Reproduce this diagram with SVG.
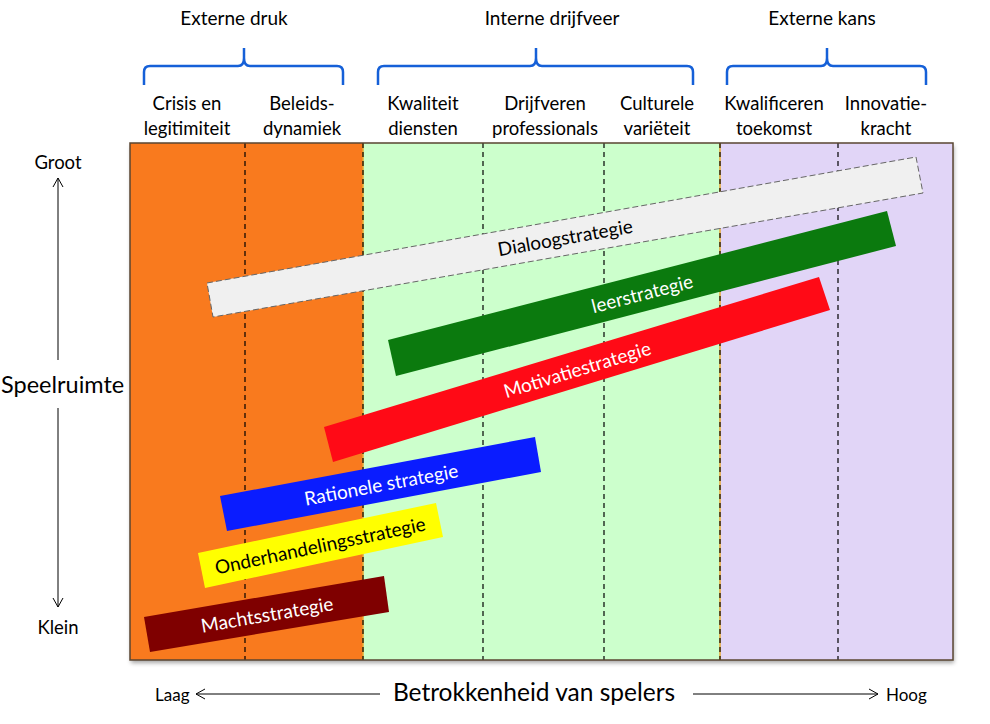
<svg xmlns="http://www.w3.org/2000/svg" width="990" height="724" viewBox="0 0 990 724">
<defs>
<style>
text{font-family:Lato,"Open Sans","Liberation Sans",sans-serif;fill:#000}
.hdr{font-size:19px;text-anchor:middle}
.col{font-size:18.5px;text-anchor:middle}
.brace{fill:none;stroke:#1560d8;stroke-width:2.5;stroke-linejoin:round}
.dash{stroke:#000;stroke-width:1.2;stroke-dasharray:5,4}
.bnd{stroke:#e8a830;stroke-width:1.5}
.ax{stroke:#000;stroke-width:1;fill:none}
.bar{font-size:19px;text-anchor:middle;dominant-baseline:central}
.w{fill:#fff}
</style>
<marker id="ah" viewBox="0 0 12 12" refX="11" refY="6" markerWidth="12" markerHeight="12" markerUnits="userSpaceOnUse" orient="auto">
<polyline points="2,1 11,6 2,11" fill="none" stroke="#000" stroke-width="1"/>
</marker>
<filter id="sh" x="-5%" y="-5%" width="110%" height="115%">
<feDropShadow dx="1" dy="3" stdDeviation="2" flood-color="#000" flood-opacity="0.35"/>
</filter>
</defs>
<rect width="990" height="724" fill="#fff"/>

<g id="frame">
<rect x="130" y="143" width="823" height="517" fill="#e1d5f7" filter="url(#sh)"/>
<rect x="130" y="143" width="233" height="517" fill="#f97a1e"/>
<rect x="363" y="143" width="357" height="517" fill="#ccffcc"/>
<rect x="720" y="143" width="233" height="517" fill="#e1d5f7"/>
<line class="bnd" x1="363" y1="143" x2="363" y2="660"/>
<line class="bnd" x1="720" y1="143" x2="720" y2="660"/>
<line class="dash" x1="245" y1="143" x2="245" y2="660"/>
<line class="dash" x1="363" y1="143" x2="363" y2="660"/>
<line class="dash" x1="483" y1="143" x2="483" y2="660"/>
<line class="dash" x1="604" y1="143" x2="604" y2="660"/>
<line class="dash" x1="720" y1="143" x2="720" y2="660"/>
<line class="dash" x1="838" y1="143" x2="838" y2="660"/>
<rect x="130" y="143" width="823" height="517" fill="none" stroke="#5a4632" stroke-width="1.5"/>
</g>

<g id="headers">
<text class="hdr" x="234" y="25">Externe druk</text>
<text class="hdr" x="552" y="25">Interne drijfveer</text>
<text class="hdr" x="822" y="25">Externe kans</text>
<path class="brace" d="M144,85 V72 Q144,66 150,66 H238 Q244,66 244,58 V48 M244,58 Q244,66 250,66 H337 Q343,66 343,72 V85"/>
<path class="brace" d="M378,85 V72 Q378,66 384,66 H530 Q536,66 536,58 V48 M536,58 Q536,66 542,66 H687 Q693,66 693,72 V85"/>
<path class="brace" d="M727,85 V72 Q727,66 733,66 H821 Q827,66 827,58 V48 M827,58 Q827,66 833,66 H920 Q926,66 926,72 V85"/>
</g>

<g id="columns">
<text class="col" x="187" y="110">Crisis en</text>
<text class="col" x="187" y="135">legitimiteit</text>
<text class="col" x="302" y="110">Beleids-</text>
<text class="col" x="302" y="135">dynamiek</text>
<text class="col" x="423" y="110">Kwaliteit</text>
<text class="col" x="423" y="135">diensten</text>
<text class="col" x="545" y="110">Drijfveren</text>
<text class="col" x="545" y="135">professionals</text>
<text class="col" x="657" y="110">Culturele</text>
<text class="col" x="657" y="135">variëteit</text>
<text class="col" x="774" y="110">Kwalificeren</text>
<text class="col" x="774" y="135">toekomst</text>
<text class="col" x="886" y="110">Innovatie-</text>
<text class="col" x="886" y="135">kracht</text>
</g>

<g id="dialoogstrategie">
<polygon points="207,283 916,157 923,193 213,317" fill="#f0f0f0" stroke="#666" stroke-width="1" stroke-dasharray="6,3"/>
<text class="bar" transform="translate(565,237) rotate(-10.1)">Dialoogstrategie</text>
</g>
<g id="leerstrategie">
<polygon points="388,340 887,211 896,246 396,376" fill="#0b7a0e"/>
<text class="bar w" transform="translate(642,293) rotate(-14.5)">leerstrategie</text>
</g>
<g id="motivatiestrategie">
<polygon points="324,427 819,277 830,310 333,462" fill="#ff0a16"/>
<text class="bar w" transform="translate(577,369) rotate(-16.9)">Motivatiestrategie</text>
</g>
<g id="rationele-strategie">
<polygon points="220,496 535,437 541,472 227,531" fill="#0a1cff"/>
<text class="bar w" transform="translate(381,484) rotate(-10.6)">Rationele strategie</text>
</g>
<g id="onderhandelingsstrategie">
<polygon points="198,553 436,503 443,537 205,588" fill="#ffff00"/>
<text class="bar" transform="translate(320,545) rotate(-11.9)">Onderhandelingsstrategie</text>
</g>
<g id="machtsstrategie">
<polygon points="144,617 384,576 389,612 150,652" fill="#7f0000"/>
<text class="bar w" transform="translate(267,614) rotate(-9.7)">Machtsstrategie</text>
</g>

<g id="axes">
<text x="58" y="169" font-size="18.5" text-anchor="middle">Groot</text>
<text x="58" y="634" font-size="18.5" text-anchor="middle">Klein</text>
<text x="1" y="393" font-size="23.5">Speelruimte</text>
<line class="ax" x1="58" y1="360" x2="58" y2="178" marker-end="url(#ah)"/>
<line class="ax" x1="58" y1="408" x2="58" y2="607" marker-end="url(#ah)"/>
<text x="155" y="701" font-size="17">Laag</text>
<text x="534" y="701" font-size="24.5" text-anchor="middle">Betrokkenheid van spelers</text>
<text x="886" y="701" font-size="17">Hoog</text>
<line class="ax" x1="380" y1="694" x2="196" y2="694" marker-end="url(#ah)"/>
<line class="ax" x1="693" y1="694" x2="878" y2="694" marker-end="url(#ah)"/>
</g>
</svg>
